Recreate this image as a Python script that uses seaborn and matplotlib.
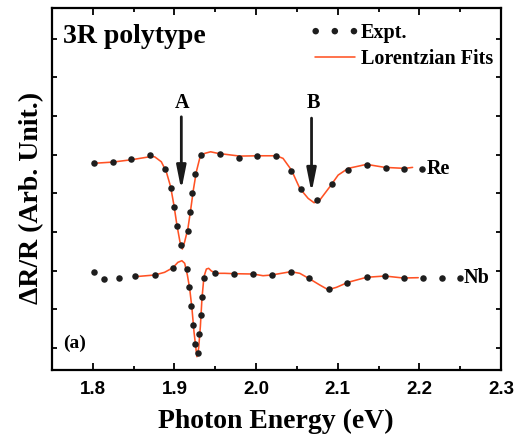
import matplotlib
matplotlib.use('Agg')
import matplotlib.pyplot as plt
import seaborn as sns
from matplotlib.ticker import MultipleLocator, NullFormatter, FormatStrFormatter
from matplotlib.legend_handler import HandlerPathCollection

# ---------------- data ----------------
x_ticks = [1.8, 1.9, 2.0, 2.1, 2.2, 2.3]

re_fit_e = [1.800, 1.8245, 1.8471, 1.8695, 1.8757, 1.8839, 1.8900, 1.8953, 1.8993,
            1.9030, 1.9067, 1.9096, 1.9125, 1.9165, 1.9198, 1.9231, 1.9268, 1.9309,
            1.9370, 1.9443, 1.9533, 1.9799, 2.0024, 2.0249, 2.0330, 2.0433, 2.0535,
            2.0637, 2.0710, 2.0780, 2.0903, 2.1005, 2.1127, 2.1353, 2.1577, 2.1823,
            2.1917]
re_fit_v = [4.773, 4.806, 4.866, 4.943, 4.943, 4.814, 4.556, 4.168, 3.695,
            3.178, 2.747, 2.558, 2.747, 3.093, 3.566, 4.083, 4.556, 4.902,
            5.031, 5.072, 5.031, 4.961, 4.969, 4.969, 4.902, 4.599, 4.127,
            3.868, 3.755, 3.824, 4.168, 4.470, 4.643, 4.747, 4.669, 4.643,
            4.669]

re_exp_e = [1.8012, 1.8245, 1.8471, 1.8695, 1.8879, 1.8962, 1.8993, 1.9030, 1.9084,
            1.9165, 1.9190, 1.9219, 1.9247, 1.9329, 1.9554, 1.9787, 2.0016, 2.0249,
            2.0433, 2.0547, 2.0740, 2.0924, 2.1120, 2.1353, 2.1586, 2.1814, 2.2035]
re_exp_v = [4.788, 4.806, 4.884, 4.995, 4.618, 4.127, 3.651, 3.152, 2.661,
            3.031, 3.506, 3.997, 4.488, 4.987, 5.013, 4.902, 4.953, 4.969,
            4.581, 4.101, 3.824, 4.230, 4.599, 4.736, 4.659, 4.633, 4.633]

nb_fit_e = [1.8511, 1.8757, 1.8879, 1.8981, 1.9042, 1.9091, 1.9125, 1.9158, 1.9186,
            1.9214, 1.9239, 1.9260, 1.9275, 1.9296, 1.9317, 1.9337, 1.9361, 1.9391,
            1.9419, 1.9452, 1.9513, 1.9615, 1.9738, 1.9962, 2.0085, 2.0188, 2.0425,
            2.0535, 2.0658, 2.0780, 2.0882, 2.0985, 2.1127, 2.1353, 2.1577, 2.1802,
            2.1986]
nb_fit_v = [1.842, 1.886, 1.956, 2.075, 2.214, 2.256, 2.189, 1.886, 1.543,
            1.026, 0.421, 0.034, -0.225, -0.008, 0.550, 1.284, 1.842, 2.041,
            2.059, 1.990, 1.930, 1.930, 1.920, 1.912, 1.868, 1.886, 1.972,
            1.930, 1.783, 1.628, 1.506, 1.568, 1.698, 1.827, 1.860, 1.809,
            1.817]

nb_exp_e = [1.8012, 1.8131, 1.8319, 1.8520, 1.8757, 1.8981, 1.9149, 1.9177, 1.9207,
            1.9226, 1.9247, 1.9288, 1.9305, 1.9321, 1.9333, 1.9358, 1.9501, 1.9729,
            1.9962, 2.0195, 2.0425, 2.0649, 2.0887, 2.1115, 2.1353, 2.1581, 2.1810,
            2.2040, 2.2273, 2.2497]
nb_exp_v = [1.972, 1.775, 1.817, 1.860, 1.886, 2.075, 2.041, 1.568, 1.085,
            0.594, 0.103, -0.121, 0.362, 0.853, 1.326, 1.817, 1.930, 1.920,
            1.920, 1.886, 1.956, 1.817, 1.517, 1.680, 1.827, 1.860, 1.809,
            1.801, 1.801, 1.801]

# ---------------- style ----------------
sns.set_theme(style='ticks', rc={'axes.edgecolor': 'black', 'text.color': 'black',
                                 'axes.labelcolor': 'black', 'xtick.color': 'black',
                                 'ytick.color': 'black'})
plt.rcParams['font.family'] = ['Liberation Serif', 'DejaVu Serif']

fit_color = '#ff5224'
dot_color = '#1e1e1e'

fig = plt.figure(figsize=(5.27, 4.37), dpi=100)
ax = fig.add_axes([0.0987, 0.1533, 0.852, 0.8284])

sns.lineplot(x=re_fit_e, y=re_fit_v, ax=ax, color=fit_color, lw=1.15,
             sort=False, estimator=None, zorder=2)
sns.lineplot(x=nb_fit_e, y=nb_fit_v, ax=ax, color=fit_color, lw=1.15,
             sort=False, estimator=None, zorder=2)
sns.scatterplot(x=re_exp_e, y=re_exp_v, ax=ax, color=dot_color, s=22,
                linewidth=0, zorder=3)
sns.scatterplot(x=nb_exp_e, y=nb_exp_v, ax=ax, color=dot_color, s=22,
                linewidth=0, zorder=3)

fit_handle = ax.lines[0]
exp_handle = ax.collections[0]
leg = ax.legend([exp_handle, fit_handle], ['Expt.', 'Lorentzian Fits'],
                loc='upper left', bbox_to_anchor=(0.585, 0.958), frameon=False,
                borderpad=0, borderaxespad=0, handlelength=2.0, handletextpad=0.3,
                labelspacing=0.28, scatterpoints=3, scatteryoffsets=[0.5],
                prop={'family': 'Liberation Serif', 'weight': 'bold', 'size': 14.5},
                handler_map={exp_handle: HandlerPathCollection(marker_pad=0.05)})

# axes
ax.set_xlim(1.75, 2.3)
ax.set_ylim(-0.57, 8.79)
ax.set_xticks(x_ticks)
ax.xaxis.set_major_formatter(FormatStrFormatter('%.1f'))
ax.xaxis.set_minor_locator(MultipleLocator(0.05))
ax.yaxis.set_major_locator(MultipleLocator(1))
ax.yaxis.set_major_formatter(NullFormatter())
ax.tick_params(axis='both', which='both', direction='in', top=True, right=True,
               width=1.3)
ax.tick_params(axis='x', which='major', length=5, pad=8)
ax.tick_params(axis='x', which='minor', length=3)
ax.tick_params(axis='y', which='major', length=3.5)
for lab in ax.get_xticklabels():
    lab.set_fontfamily('Liberation Sans')
    lab.set_fontweight('bold')
    lab.set_fontsize(13.5)
for sp in ax.spines.values():
    sp.set_linewidth(1.6)
    sp.set_color('black')

ax.set_xlabel('Photon Energy (eV)', fontsize=20, fontweight='bold')
ax.set_ylabel('ΔR/R (Arb. Unit.)', fontsize=20, fontweight='bold')
ax.xaxis.set_label_coords(0.499, -0.106)
ax.yaxis.set_label_coords(-0.018, 0.475)

# annotations
ax.text(0.024, 0.921, '3R polytype', transform=ax.transAxes, fontsize=20,
        fontweight='bold', va='center', ha='left')
ax.text(0.024, 0.074, '(a)', transform=ax.transAxes, fontsize=14,
        fontweight='bold', va='center', ha='left')
ax.text(2.2088, 4.618, 'Re', fontsize=14.5, fontweight='bold', va='center', ha='left')
ax.text(2.2546, 1.801, 'Nb', fontsize=14.5, fontweight='bold', va='center', ha='left')
ax.text(1.9096, 6.339, 'A', fontsize=14.5, fontweight='bold', va='center', ha='center')
ax.text(2.0698, 6.339, 'B', fontsize=14.5, fontweight='bold', va='center', ha='center')

arrow = dict(arrowstyle='-|>,head_length=1.0,head_width=0.2', lw=2,
             color='#1a1a1a', shrinkA=0, shrinkB=0, mutation_scale=14)
ax.annotate('', xy=(1.9084, 4.083), xytext=(1.9084, 5.977), arrowprops=arrow)
ax.annotate('', xy=(2.0679, 4.013), xytext=(2.0679, 5.943), arrowprops=arrow)

fig.savefig('out.png', dpi=100)
